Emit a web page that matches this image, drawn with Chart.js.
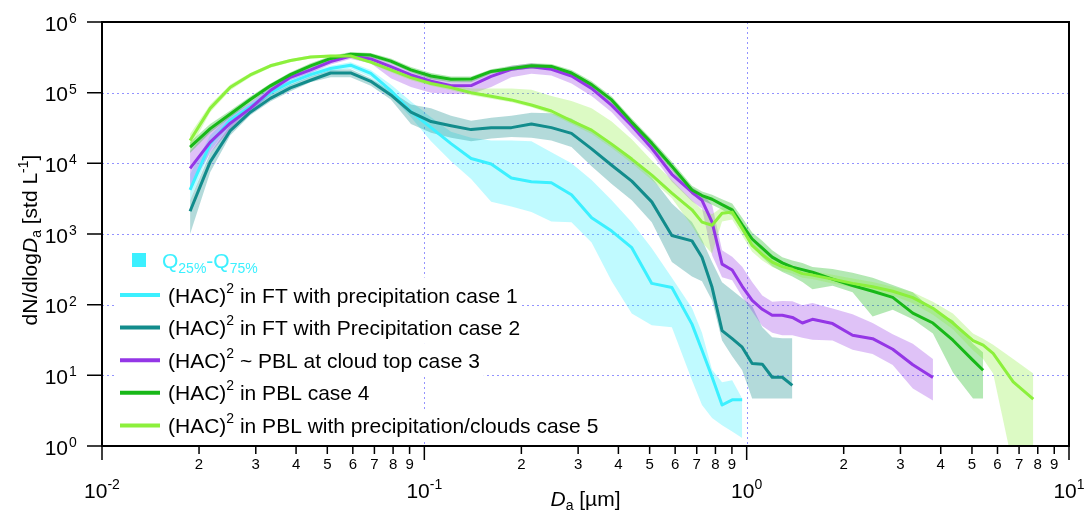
<!DOCTYPE html>
<html>
<head>
<meta charset="utf-8">
<script src="https://cdn.jsdelivr.net/npm/chart.js@4.4.1/dist/chart.umd.min.js"></script>
<style>
  html, body { margin: 0; padding: 0; background: #fff; }
</style>
</head>
<body>
<canvas id="sizeDist" width="1085" height="515"></canvas>
<script>
// bin centres, µm
const diameters = [0.01876, 0.02166, 0.02501, 0.02884, 0.03330, 0.03843, 0.04436, 0.05122, 0.05906, 0.06821,
  0.07872, 0.09087, 0.1049, 0.1210, 0.1397, 0.1612, 0.1862, 0.2149, 0.2478, 0.2861,
  0.3303, 0.3813, 0.4401, 0.5077, 0.5861, 0.6766, 0.7268, 0.7811, 0.8388, 0.9016,
  0.9685, 1.040, 1.118, 1.200, 1.290, 1.386, 1.489, 1.600, 1.847, 2.131,
  2.459, 2.839, 3.277, 3.783, 4.364, 5.038, 5.416, 5.816, 6.713, 7.748];

// case 1 : FT with precipitation
const case1Median = [4200, 19000, 41000, 63000, 100000, 140000, 180000, 220000, 245000, 187000, 107000, 54000, 32000, 19000, 11700, 9800, 6200, 5500, 5300, 3600, 1700, 1100, 640, 200, 175, 53, 22.6, 9.5, 3.8, 4.5, 4.5];
const case1Q25 = [3000, 15000, 35000, 56000, 90000, 125000, 165000, 200000, 220000, 165000, 90000, 45000, 20500, 10700, 6000, 2850, 2450, 2040, 1500, 1470, 760, 215, 75, 51, 48, 8.5, 3.8, 2.5, 1.96, 1.6, 1.3];
const case1Q75 = [7000, 25000, 48000, 72000, 115000, 155000, 200000, 240000, 270000, 210000, 130000, 75000, 45000, 28000, 23000, 21000, 21000, 20500, 14400, 10000, 5800, 3000, 1470, 630, 240, 90, 40, 12, 8, 8.5, 4.7];

// case 2 : FT with Precipitation
const case2Median = [2100, 10500, 29000, 53000, 83000, 117000, 150000, 190000, 190000, 145000, 93000, 53000, 39000, 34000, 30000, 32000, 32000, 36000, 32000, 26500, 16000, 9400, 5600, 2850, 950, 800, 470, 176, 43, 33, 25, 14.7, 14.4, 9.4, 9.4, 7.2];
const case2Q25 = [1000, 7500, 25000, 48000, 75000, 105000, 140000, 165000, 165000, 125000, 80000, 36000, 27000, 23000, 20500, 22500, 23500, 23000, 21000, 17000, 9100, 5100, 3000, 1470, 400, 250, 214, 115, 31, 18.6, 11.8, 4.7, 4.7, 4.7, 4.7, 4.7];
const case2Q75 = [3000, 14000, 35000, 62000, 95000, 130000, 170000, 210000, 215000, 160000, 105000, 68000, 60000, 47000, 40000, 44000, 47000, 52000, 51000, 43000, 29000, 19300, 11500, 6300, 2700, 1480, 830, 400, 207, 160, 123, 96, 48, 34.6, 33.5, 33.5];

// case 3 : ~ PBL at cloud top
const case3Median = [8500, 20000, 37000, 60000, 107000, 165000, 210000, 275000, 330000, 300000, 233000, 178000, 145000, 125000, 126000, 170000, 214000, 233000, 214000, 172000, 115000, 66000, 34000, 16300, 7000, 3900, 3000, 1470, 375, 310, 182, 115, 86, 71, 71, 66, 55, 62, 54, 37, 33, 23.4, 14.1, 9.3];
const case3Q25 = [4500, 14000, 30000, 52000, 95000, 150000, 190000, 250000, 300000, 260000, 160000, 120000, 100000, 96000, 96000, 120000, 165000, 185000, 175000, 135000, 90000, 53000, 26000, 13500, 5500, 2900, 2300, 500, 245, 222, 129, 80, 50, 40, 37, 37, 34, 32, 31, 23, 20, 14, 6.5, 4.4];
const case3Q75 = [15000, 30000, 48000, 72000, 120000, 180000, 230000, 300000, 350000, 330000, 265000, 200000, 165000, 145000, 148000, 195000, 240000, 260000, 240000, 195000, 130000, 76000, 40000, 19000, 8300, 4600, 3700, 2600, 590, 475, 343, 210, 135, 110, 113, 112, 98, 106, 88, 73, 55, 38, 28, 17];

// case 4 : in PBL
const case4Median = [17000, 31000, 50000, 80000, 125000, 180000, 240000, 305000, 350000, 340000, 280000, 210000, 172000, 155000, 156000, 200000, 220000, 240000, 235000, 190000, 130000, 79000, 38000, 19300, 9100, 4200, 3500, 3100, 2600, 2200, 1350, 850, 630, 470, 390, 340, 313, 288, 230, 186, 155, 127, 76, 55, 31.4, 16.3, 11.8];
const case4Q25 = [14000, 27000, 45000, 72000, 115000, 165000, 220000, 285000, 330000, 315000, 260000, 195000, 155000, 140000, 140000, 185000, 205000, 220000, 215000, 175000, 118000, 70000, 34000, 17000, 8000, 3600, 3000, 2600, 2200, 1800, 1100, 680, 470, 350, 290, 250, 210, 165, 185, 150, 68, 85, 62, 39, 11, 4.7, 4.7];
const case4Q75 = [20000, 36000, 56000, 88000, 135000, 195000, 260000, 330000, 375000, 365000, 305000, 230000, 190000, 170000, 170000, 215000, 240000, 260000, 255000, 210000, 145000, 88000, 43000, 22000, 10500, 4800, 4000, 3600, 3100, 2700, 1700, 1050, 800, 590, 470, 420, 390, 340, 320, 282, 240, 190, 150, 84, 60, 28, 21];

// case 5 : PBL with precipitation/clouds
const case5Median = [21000, 60000, 119000, 178000, 240000, 285000, 320000, 330000, 330000, 270000, 210000, 163000, 135000, 118000, 100000, 89000, 79000, 67000, 55000, 40000, 29500, 18700, 11500, 6800, 3800, 2200, 1470, 1330, 1970, 2040, 1200, 690, 510, 400, 345, 317, 275, 262, 230, 200, 179, 155, 126, 89, 55, 31, 26.7, 20.5, 8.1, 4.6];
const case5Q25 = [16000, 53000, 108000, 165000, 225000, 270000, 305000, 315000, 315000, 255000, 195000, 150000, 125000, 108000, 92000, 82000, 73000, 62000, 50000, 36000, 26000, 16500, 10000, 5800, 3200, 1300, 760, 530, 1500, 1600, 950, 560, 420, 340, 300, 275, 240, 230, 200, 175, 155, 135, 105, 72, 45, 22.6, 17, 10.6, 0.5, 0.5];
const case5Q75 = [26000, 68000, 130000, 190000, 255000, 300000, 335000, 345000, 345000, 285000, 225000, 175000, 145000, 130000, 115000, 115000, 115000, 110000, 90000, 76000, 60000, 39000, 22000, 11000, 5800, 3000, 2200, 1900, 2400, 2400, 1500, 850, 620, 470, 400, 360, 320, 300, 265, 235, 210, 180, 150, 110, 75, 39, 33, 27, 17, 10.6];

const xMajorTicks = [0.01, 0.1, 1, 10];
const xMinorDigits = [2, 3, 4, 5, 6, 7, 8, 9];
const yMajorTicks = [1, 10, 100, 1e3, 1e4, 1e5, 1e6];

const series = [
  { text: ' in FT with precipitation case 1', line: '#3cf0ff', band: 'rgba(60,240,255,0.32)', med: case1Median, lo: case1Q25, hi: case1Q75 },
  { text: ' in FT with Precipitation case 2', line: '#128c8c', band: 'rgba(18,140,140,0.32)', med: case2Median, lo: case2Q25, hi: case2Q75 },
  { text: ' ~ PBL at cloud top case 3', line: '#9436e6', band: 'rgba(148,54,230,0.30)', med: case3Median, lo: case3Q25, hi: case3Q75 },
  { text: ' in PBL case 4', line: '#18b818', band: 'rgba(24,184,24,0.33)', med: case4Median, lo: case4Q25, hi: case4Q75 },
  { text: ' in PBL with precipitation/clouds case 5', line: '#8cf03c', band: 'rgba(140,240,60,0.30)', med: case5Median, lo: case5Q25, hi: case5Q75 }
];

function pts(vals) {
  return diameters.map((d, i) => vals[i] == null ? null : { x: d, y: vals[i] }).filter(p => p);
}

const datasets = [];
series.forEach((s, k) => {
  datasets.push({ data: pts(s.lo), borderWidth: 0, borderColor: 'transparent', pointRadius: 0, fill: false, order: 60 - k });
  datasets.push({ data: pts(s.hi), borderWidth: 0, borderColor: 'transparent', pointRadius: 0, fill: '-1', backgroundColor: s.band, order: 60 - k });
});
series.forEach((s, k) => {
  datasets.push({ data: pts(s.med), borderColor: s.line, borderWidth: 3, pointRadius: 0, fill: false, order: 10 - k });
});

const FONT = '"Liberation Sans", Arial, sans-serif';

function drawRich(ctx, parts, x, y, align) {
  let w = 0;
  parts.forEach(p => {
    ctx.font = (p.italic ? 'italic ' : '') + p.size + 'px ' + FONT;
    p.w = ctx.measureText(p.t).width;
    w += p.w;
  });
  let cx = align === 'center' ? x - w / 2 : (align === 'right' ? x - w : x);
  parts.forEach(p => {
    ctx.font = (p.italic ? 'italic ' : '') + p.size + 'px ' + FONT;
    ctx.fillText(p.t, cx, y + (p.dy || 0));
    cx += p.w;
  });
  return w;
}

const decor = {
  id: 'decor',
  beforeDatasetsDraw(chart) {
    const { ctx, chartArea: a, scales: { x, y } } = chart;
    ctx.save();
    ctx.strokeStyle = 'rgba(120,120,255,0.8)';
    ctx.lineWidth = 1;
    ctx.setLineDash([2, 3]);
    yMajorTicks.slice(1, -1).forEach(v => {
      const py = Math.round(y.getPixelForValue(v)) + 0.5;
      ctx.beginPath(); ctx.moveTo(a.left, py); ctx.lineTo(a.right, py); ctx.stroke();
    });
    xMajorTicks.slice(1, -1).forEach(v => {
      const px = Math.round(x.getPixelForValue(v)) + 0.5;
      ctx.beginPath(); ctx.moveTo(px, a.top); ctx.lineTo(px, a.bottom); ctx.stroke();
    });
    ctx.restore();
  },
  afterDatasetsDraw(chart) {
    const { ctx, chartArea: a, scales: { x, y } } = chart;
    ctx.save();

    // legend
    const rowY = [260, 295, 327.6, 360.2, 392.8, 425.4];
    ctx.textBaseline = 'alphabetic';
    const widths = [];
    ctx.font = '21px ' + FONT;
    widths.push(270);
    series.forEach(s => {
      ctx.font = '21px ' + FONT;
      const w1 = ctx.measureText('(HAC)').width;
      const w3 = ctx.measureText(s.text).width;
      ctx.font = '14px ' + FONT;
      widths.push(168 + w1 + ctx.measureText('2').width + w3 + 4);
    });
    ctx.fillStyle = '#fff';
    rowY.forEach((ry, i) => {
      const top = i === 0 ? 244 : (rowY[i - 1] + ry) / 2;
      const bot = i === rowY.length - 1 ? 441 : (rowY[i + 1] + ry) / 2;
      ctx.fillRect(116, top, widths[i] - 116, bot - top);
    });

    ctx.fillStyle = series[0].line;
    ctx.fillRect(132, 253, 14, 14);
    drawRich(ctx, [
      { t: 'Q', size: 21 }, { t: '25%', size: 14, dy: 5 },
      { t: '-Q', size: 21 }, { t: '75%', size: 14, dy: 5 }
    ], 162, rowY[0] + 7.5, 'left');

    series.forEach((s, k) => {
      const ry = rowY[k + 1];
      ctx.strokeStyle = s.line;
      ctx.lineWidth = 4;
      ctx.beginPath(); ctx.moveTo(120, ry); ctx.lineTo(160, ry); ctx.stroke();
      ctx.fillStyle = '#000';
      drawRich(ctx, [
        { t: '(HAC)', size: 21 }, { t: '2', size: 14, dy: -10 }, { t: s.text, size: 21 }
      ], 168, ry + 7.5, 'left');
    });

    // frame
    ctx.strokeStyle = '#000';
    ctx.lineWidth = 2;
    ctx.strokeRect(a.left, a.top, a.right - a.left, a.bottom - a.top);

    // ticks
    ctx.lineWidth = 1.5;
    ctx.beginPath();
    yMajorTicks.forEach(v => {
      const py = y.getPixelForValue(v);
      ctx.moveTo(a.left - 15, py); ctx.lineTo(a.left, py);
    });
    xMajorTicks.forEach((v, i) => {
      const px = x.getPixelForValue(v);
      ctx.moveTo(px, a.bottom); ctx.lineTo(px, a.bottom + 14);
      if (i < xMajorTicks.length - 1) {
        xMinorDigits.forEach(d => {
          const pm = x.getPixelForValue(v * d);
          ctx.moveTo(pm, a.bottom); ctx.lineTo(pm, a.bottom + 8);
        });
      }
    });
    ctx.stroke();

    // tick labels
    ctx.fillStyle = '#000';
    ctx.textBaseline = 'alphabetic';
    yMajorTicks.forEach(v => {
      const py = y.getPixelForValue(v);
      const e = Math.round(Math.log10(v));
      ctx.font = '21px ' + FONT;
      ctx.textAlign = 'right';
      ctx.fillText('10', 68, py + 8.5);
      ctx.font = '14px ' + FONT;
      ctx.textAlign = 'left';
      ctx.fillText(String(e), 69, py + 1);
    });
    ctx.textAlign = 'left';
    xMajorTicks.forEach((v, i) => {
      const px = x.getPixelForValue(v);
      const e = Math.round(Math.log10(v));
      drawRich(ctx, [{ t: '10', size: 21 }, { t: String(e), size: 14, dy: -9 }], px, 498, 'center');
      if (i < xMajorTicks.length - 1) {
        xMinorDigits.forEach(d => {
          const pm = x.getPixelForValue(v * d);
          drawRich(ctx, [{ t: String(d), size: 15 }], pm, 469, 'center');
        });
      }
    });

    // axis titles
    drawRich(ctx, [
      { t: 'D', size: 21, italic: true }, { t: 'a', size: 14, dy: 4 }, { t: ' [µm]', size: 21 }
    ], (a.left + a.right) / 2, 506, 'center');

    ctx.translate(37, 240);
    ctx.rotate(-Math.PI / 2);
    drawRich(ctx, [
      { t: 'dN/dlog', size: 21 }, { t: 'D', size: 21, italic: true }, { t: 'a', size: 14, dy: 4 },
      { t: ' [std L', size: 21 }, { t: '-1', size: 14, dy: -9 }, { t: ']', size: 21 }
    ], 0, 0, 'center');
    ctx.restore();
  }
};

new Chart(document.getElementById('sizeDist'), {
  type: 'line',
  data: { datasets },
  options: {
    responsive: false,
    animation: false,
    events: [],
    layout: { padding: { left: 102, top: 22, right: 16, bottom: 69 } },
    scales: {
      x: { type: 'logarithmic', min: 0.01, max: 10, display: false },
      y: { type: 'logarithmic', min: 1, max: 1e6, display: false }
    },
    elements: { line: { tension: 0, borderJoinStyle: 'round' } },
    plugins: { legend: { display: false }, tooltip: { enabled: false } }
  },
  plugins: [decor]
});
</script>
</body>
</html>
